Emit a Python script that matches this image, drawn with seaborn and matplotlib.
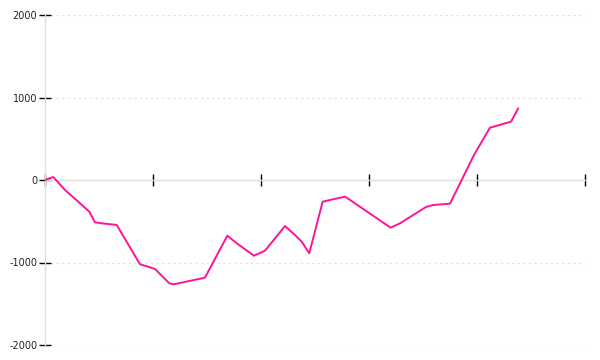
import matplotlib
matplotlib.use("Agg")
import matplotlib.pyplot as plt
import seaborn as sns
import pandas as pd

# data
x_vals = [0, 0.77, 1.85, 3.18, 4.10, 4.63, 5.25, 6.64, 8.80, 9.56, 10.19, 11.51, 11.94,
          14.81, 16.88, 17.75, 19.35, 20.37, 22.22, 23.15, 23.77, 24.47, 25.71, 26.08,
          27.78, 28.24, 32.01, 32.87, 35.28, 35.95, 37.50, 39.72, 41.20, 42.29, 43.15, 43.82]
y_vals = [0, 36, -121, -275, -384, -513, -525, -545, -1022, -1051, -1079, -1252, -1264,
          -1184, -675, -767, -918, -857, -558, -667, -748, -888, -263, -251,
          -202, -242, -578, -525, -327, -303, -287, 303, 634, 675, 707, 869]
x_ticks = [0, 10, 20, 30, 40, 50]
y_ticks = [-2000, -1000, 0, 1000, 2000]
y_labels = ["-2000", "-1000", "0", "1000", "2000"]

sns.set_theme(style="white")
plt.rcParams['font.family'] = ['DejaVu Sans']

df = pd.DataFrame({"x": x_vals, "y": y_vals})

fig = plt.figure(figsize=(6, 3.6), dpi=100)
ax = fig.add_axes([45/600, 1 - 345/360, 540/600, 330/360])
sns.lineplot(data=df, x="x", y="y", ax=ax, color="#ff1493", linewidth=1.4, sort=False)

ax.set_xlim(0, 50)
ax.set_ylim(-2000, 2000)
ax.set_xlabel("")
ax.set_ylabel("")

ax.spines['top'].set_visible(False)
ax.spines['right'].set_visible(False)
for s in ('left', 'bottom'):
    ax.spines[s].set_color("#dddddd")
    ax.spines[s].set_linewidth(1)
    ax.spines[s].set_zorder(1)
ax.spines['bottom'].set_position(('data', 0))

ax.set_xticks(x_ticks)
ax.set_xticklabels([])
ax.tick_params(axis='x', direction='inout', length=8, width=1, color='black', bottom=True)
ax.set_yticks(y_ticks)
ax.set_yticklabels(y_labels)
ax.tick_params(axis='y', direction='inout', length=9, width=1, color='black', left=True,
               labelsize=7, labelcolor='#222222', pad=1)

for yv in y_ticks:
    if yv != 0:
        ax.axhline(yv, color="#e0e0e0", linewidth=0.8, linestyle=(0, (2, 3)), zorder=0)

fig.savefig("out.png", dpi=100, facecolor="white")
